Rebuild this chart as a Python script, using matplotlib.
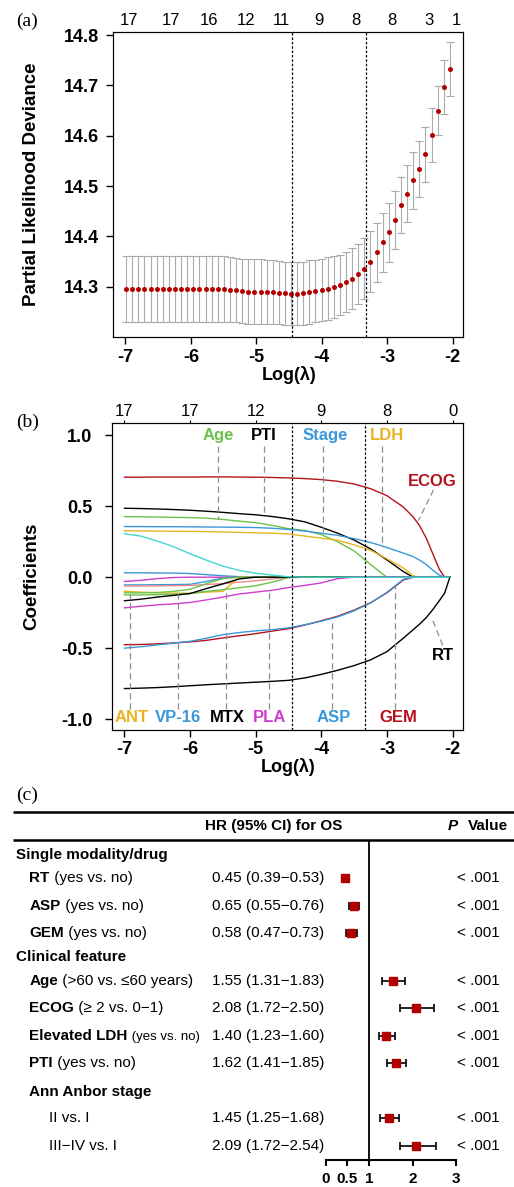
import numpy as np
import matplotlib.pyplot as plt

plt.rcParams['font.family'] = ['Liberation Sans', 'DejaVu Sans']
plt.rcParams['axes.unicode_minus'] = False

# ---- (a) cross-validation curve ----
cv_lam = np.linspace(-6.99, -2.04, 54)
cv_dev = [14.295, 14.295, 14.295, 14.295, 14.295, 14.295, 14.295, 14.295, 14.295, 14.295,
          14.295, 14.295, 14.295, 14.295, 14.295, 14.295, 14.295, 14.294, 14.293, 14.291,
          14.290, 14.290, 14.290, 14.289, 14.289, 14.288, 14.287, 14.286, 14.286, 14.287,
          14.289, 14.291, 14.293, 14.296, 14.299, 14.303, 14.309, 14.316, 14.325, 14.336,
          14.350, 14.368, 14.388, 14.408, 14.433, 14.462, 14.485, 14.511, 14.534, 14.563,
          14.601, 14.650, 14.697, 14.732]
cv_se = [0.065] * 18 + [0.064] * 5 + [0.063] * 8 + [0.062] * 4 + [0.060] * 6 + \
        [0.058] * 4 + [0.056] * 4 + [0.055, 0.054, 0.048, 0.053, 0.054]
cv_top_pos = [-6.95, -6.31, -5.72, -5.15, -4.61, -4.04, -3.48, -2.93, -2.36, -1.94]
cv_top_lab = ['17', '17', '16', '12', '11', '9', '8', '8', '3', '1']
lam_min = -4.45
lam_1se = -3.33

# ---- (b) coefficient paths ----
path_lam = [-7.0, -6.75, -6.5, -6.25, -6.0, -5.75, -5.5, -5.25, -5.0, -4.75, -4.5,
            -4.25, -4.0, -3.75, -3.5, -3.25, -3.0, -2.75, -2.6, -2.5, -2.4, -2.3,
            -2.2, -2.12, -2.04]
ecog = [0.705, 0.705, 0.706, 0.706, 0.706, 0.707, 0.707, 0.706, 0.705, 0.703, 0.700,
        0.695, 0.688, 0.676, 0.657, 0.624, 0.575, 0.495, 0.425, 0.362, 0.275, 0.165,
        0.055, 0.0, 0.0]
pti = [0.486, 0.484, 0.481, 0.477, 0.472, 0.465, 0.457, 0.448, 0.44, 0.428, 0.412,
       0.39, 0.352, 0.31, 0.262, 0.2, 0.122, 0.04, 0.0, 0.0, 0.0, 0.0,
       0.0, 0.0, 0.0]
age = [0.427, 0.426, 0.424, 0.422, 0.42, 0.416, 0.407, 0.395, 0.385, 0.365, 0.342,
       0.33, 0.30, 0.25, 0.185, 0.09, 0.0, 0.0, 0.0, 0.0, 0.0, 0.0,
       0.0, 0.0, 0.0]
stage = [0.357, 0.357, 0.356, 0.356, 0.355, 0.354, 0.353, 0.352, 0.35, 0.345, 0.337,
         0.325, 0.31, 0.295, 0.272, 0.245, 0.21, 0.17, 0.145, 0.12, 0.09, 0.05,
         0.015, 0.0, 0.0]
ldh = [0.327, 0.326, 0.325, 0.324, 0.323, 0.321, 0.319, 0.316, 0.313, 0.31, 0.305,
       0.29, 0.275, 0.26, 0.228, 0.19, 0.13, 0.065, 0.01, 0.0, 0.0, 0.0,
       0.0, 0.0, 0.0]
var_cyan = [0.306, 0.29, 0.255, 0.215, 0.165, 0.12, 0.078, 0.048, 0.028, 0.015, 0.003,
            0.0, 0.0, 0.0, 0.0, 0.0, 0.0, 0.0, 0.0, 0.0, 0.0, 0.0, 0.0, 0.0, 0.0]
var_bpos = [0.031, 0.031, 0.03, 0.029, 0.026, 0.018, 0.01, 0.004, 0.0, 0.0, 0.0,
            0.0, 0.0, 0.0, 0.0, 0.0, 0.0, 0.0, 0.0, 0.0, 0.0, 0.0, 0.0, 0.0, 0.0]
var_mag = [-0.03, -0.022, -0.01, -0.002, 0.0, 0.0, 0.0, 0.0, 0.0, 0.0, 0.0,
           0.0, 0.0, 0.0, 0.0, 0.0, 0.0, 0.0, 0.0, 0.0, 0.0, 0.0, 0.0, 0.0, 0.0]
vp16 = [-0.054, -0.054, -0.053, -0.052, -0.05, -0.03, -0.005, 0.0, 0.0, 0.0, 0.0,
        0.0, 0.0, 0.0, 0.0, 0.0, 0.0, 0.0, 0.0, 0.0, 0.0, 0.0, 0.0, 0.0, 0.0]
var_pink = [-0.062, -0.062, -0.061, -0.06, -0.058, -0.052, -0.045, -0.035, -0.025, -0.012, -0.002,
            0.0, 0.0, 0.0, 0.0, 0.0, 0.0, 0.0, 0.0, 0.0, 0.0, 0.0, 0.0, 0.0, 0.0]
ant = [-0.099, -0.105, -0.11, -0.113, -0.113, -0.105, -0.1, 0.0, 0.0, 0.0, 0.0,
       0.0, 0.0, 0.0, 0.0, 0.0, 0.0, 0.0, 0.0, 0.0, 0.0, 0.0, 0.0, 0.0, 0.0]
var_green = [-0.11, -0.11, -0.108, -0.1, -0.085, -0.045, -0.01, 0.0, 0.0, 0.0, 0.0,
             0.0, 0.0, 0.0, 0.0, 0.0, 0.0, 0.0, 0.0, 0.0, 0.0, 0.0, 0.0, 0.0, 0.0]
var_green2 = [-0.125, -0.125, -0.123, -0.12, -0.115, -0.1, -0.088, -0.074, -0.06, -0.035, -0.003,
              0.0, 0.0, 0.0, 0.0, 0.0, 0.0, 0.0, 0.0, 0.0, 0.0, 0.0, 0.0, 0.0, 0.0]
mtx = [-0.166, -0.155, -0.14, -0.128, -0.115, -0.08, -0.047, -0.012, 0.0, 0.0, 0.0,
       0.0, 0.0, 0.0, 0.0, 0.0, 0.0, 0.0, 0.0, 0.0, 0.0, 0.0, 0.0, 0.0, 0.0]
pla = [-0.216, -0.205, -0.195, -0.188, -0.178, -0.16, -0.14, -0.118, -0.105, -0.092, -0.073,
       -0.058, -0.04, -0.01, 0.0, 0.0, 0.0, 0.0, 0.0, 0.0, 0.0, 0.0, 0.0, 0.0, 0.0]
gem = [-0.476, -0.474, -0.47, -0.463, -0.456, -0.445, -0.428, -0.413, -0.398, -0.38, -0.363,
       -0.337, -0.307, -0.275, -0.232, -0.18, -0.11, -0.02, 0.0, 0.0, 0.0, 0.0,
       0.0, 0.0, 0.0]
asp = [-0.50, -0.49, -0.477, -0.465, -0.452, -0.43, -0.405, -0.39, -0.378, -0.37, -0.357,
       -0.335, -0.31, -0.28, -0.237, -0.182, -0.107, -0.015, 0.0, 0.0, 0.0, 0.0,
       0.0, 0.0, 0.0]
rt = [-0.785, -0.782, -0.778, -0.772, -0.765, -0.758, -0.752, -0.746, -0.74, -0.734, -0.727,
      -0.71, -0.685, -0.656, -0.623, -0.583, -0.525, -0.43, -0.37, -0.33, -0.285, -0.228,
      -0.165, -0.112, 0.0]

RED, BLK, GRN, BLU, GLD = '#B5121B', '#000000', '#6CC24A', '#3A98D8', '#E6B422'
CYN, MAG, PNK = '#3FD8CF', '#D03BD0', '#E88A8A'
paths = [ecog, pti, age, stage, ldh, var_bpos, var_mag, vp16, var_pink, ant,
         var_green, var_green2, mtx, pla, gem, asp, rt, var_cyan]
path_cols = [RED, BLK, GRN, BLU, GLD, BLU, MAG, BLU, PNK, GLD,
             GRN, GRN, BLK, MAG, RED, BLU, BLK, CYN]

top_names = ['Age', 'PTI', 'Stage', 'LDH']
top_cols = [GRN, BLK, BLU, GLD]
top_text_x = [-5.57, -4.88, -3.94, -3.0]
top_line_x = [-5.57, -4.87, -3.98, -3.07]
top_line_end = [0.41, 0.435, 0.317, 0.21]
bot_names = ['ANT', 'VP-16', 'MTX', 'PLA', 'ASP', 'GEM']
bot_cols = [GLD, BLU, BLK, MAG, BLU, RED]
bot_text_x = [-6.89, -6.19, -5.43, -4.79, -3.81, -2.82]
bot_line_x = [-6.91, -6.18, -5.46, -4.80, -3.83, -2.87]
bot_line_end = [-0.117, -0.117, -0.08, -0.09, -0.293, -0.06]

# ---- (c) forest plot ----
row_names = ['RT', 'ASP', 'GEM', 'Age', 'ECOG', 'Elevated LDH', 'PTI',
             'II vs. I', 'III\u2212IV vs. I']
row_notes = [' (yes vs. no)', ' (yes vs. no)', ' (yes vs. no)', ' (>60 vs. \u226460 years)',
             ' (\u2265 2 vs. 0\u22121)', ' (yes vs. no)', ' (yes vs. no)', '', '']
hr = np.array([0.45, 0.65, 0.58, 1.55, 2.08, 1.40, 1.62, 1.45, 2.09])
hr_lo = np.array([0.39, 0.55, 0.47, 1.31, 1.72, 1.23, 1.41, 1.25, 1.72])
hr_hi = np.array([0.53, 0.76, 0.73, 1.83, 2.50, 1.60, 1.85, 1.68, 2.54])
p_text = ['< .001'] * 9

W, H = 514, 1187


def box(l, t, r, b):
    return [l / W, 1 - b / H, (r - l) / W, (b - t) / H]


fig = plt.figure(figsize=(W / 100, H / 100), dpi=100)

# (a)
ax = fig.add_axes(box(113, 32, 463, 337))
ax.errorbar(cv_lam, cv_dev, yerr=cv_se, fmt='none', ecolor='#ABABAB',
            elinewidth=0.8, capsize=2.8, capthick=0.8)
ax.plot(cv_lam, cv_dev, 'o', color='#B50000', ms=3.6, mec='none')
for v in (lam_min, lam_1se):
    ax.axvline(v, color='k', ls=(0, (2, 1.5)), lw=0.9)
ax.set_xlim(-7.19, -1.84)
ax.set_ylim(14.20, 14.806)
ax.set_xticks([-7, -6, -5, -4, -3, -2])
ax.set_yticks([14.3, 14.4, 14.5, 14.6, 14.7, 14.8])
ax.set_yticklabels(['%.1f' % t for t in ax.get_yticks()])
ax.tick_params(direction='out', length=5, width=1, labelsize=13)
ax.tick_params(axis='y', pad=5)
ax.tick_params(axis='x', pad=4)
for lab in ax.get_xticklabels() + ax.get_yticklabels():
    lab.set_fontweight('bold')
ax.set_ylabel('Partial Likelihood Deviance', fontsize=13.5, fontweight='bold')
ax.yaxis.set_label_coords(-0.209, 0.5)
ax.set_xlabel('Log(\u03bb)', fontsize=13, fontweight='bold')
ax.xaxis.set_label_coords(0.503, -0.095)
top = ax.twiny()
top.set_xlim(ax.get_xlim())
top.set_xticks(cv_top_pos)
top.set_xticklabels(cv_top_lab)
top.tick_params(length=0, labelsize=12, pad=3)

# (b)
bx = fig.add_axes(box(112, 423, 463, 730))
for vals, c in zip(paths, path_cols):
    bx.plot(path_lam, vals, color=c, lw=1.0)
for v in (lam_min, lam_1se):
    bx.axvline(v, color='k', ls=(0, (2, 1.5)), lw=0.9)
lead = dict(color='#8C8C8C', lw=0.9, ls=(0, (5, 3)))
for name, c, tx, lx, le in zip(top_names, top_cols, top_text_x, top_line_x, top_line_end):
    bx.text(tx, 0.998, name, color=c, fontsize=12, fontweight='bold', ha='center', va='center')
    bx.plot([lx, lx], [0.925, le], **lead)
for name, c, tx, lx, le in zip(bot_names, bot_cols, bot_text_x, bot_line_x, bot_line_end):
    bx.text(tx, -0.99, name, color=c, fontsize=12, fontweight='bold', ha='center', va='center')
    bx.plot([lx, lx], [-0.93, le], **lead)
bx.text(-2.31, 0.675, 'ECOG', color=RED, fontsize=12, fontweight='bold', ha='center', va='center')
bx.plot([-2.29, -2.52], [0.615, 0.40], **lead)
bx.text(-2.14, -0.555, 'RT', color=BLK, fontsize=12, fontweight='bold', ha='center', va='center')
bx.plot([-2.15, -2.31], [-0.48, -0.293], **lead)
bx.set_xlim(-7.19, -1.84)
bx.set_ylim(-1.077, 1.087)
bx.set_xticks([-7, -6, -5, -4, -3, -2])
bx.set_yticks([-1.0, -0.5, 0.0, 0.5, 1.0])
bx.set_yticklabels(['%.1f' % t for t in bx.get_yticks()])
bx.tick_params(direction='out', length=5, width=1, labelsize=13)
bx.tick_params(axis='y', pad=9)
bx.tick_params(axis='x', pad=3)
for lab in bx.get_xticklabels() + bx.get_yticklabels():
    lab.set_fontweight('bold')
bx.set_ylabel('Coefficients', fontsize=13.5, fontweight='bold')
bx.yaxis.set_label_coords(-0.205, 0.5)
bx.set_xlabel('Log(\u03bb)', fontsize=13, fontweight='bold')
bx.xaxis.set_label_coords(0.503, -0.09)
btop = bx.twiny()
btop.set_xlim(bx.get_xlim())
btop.set_xticks([-7, -6, -5, -4, -3, -2])
btop.set_xticklabels(['17', '17', '12', '9', '8', '0'])
btop.tick_params(length=2.5, width=0.8, labelsize=12, pad=0.5)

# (c) forest
row_y = [878.3, 906, 933.3, 981, 1008.3, 1035.7, 1062.7, 1118.3, 1145.7]
fx = fig.add_axes(box(325.5, 840, 456, 1160))
fx.patch.set_visible(False)
fx.errorbar(hr, row_y, xerr=[hr - hr_lo, hr_hi - hr], fmt='none', ecolor='k',
            elinewidth=1.2, capsize=2.6, capthick=1.2, clip_on=False)
fx.plot(hr, row_y, 's', color='#B00000', ms=5.6, mec='#B00000', zorder=3, clip_on=False)
fx.axvline(1, color='k', lw=1.3)
fx.set_xlim(0, 3)
fx.set_ylim(1160, 840)
for s in ('top', 'right', 'left'):
    fx.spines[s].set_visible(False)
fx.spines['bottom'].set_linewidth(1.5)
fx.spines['bottom'].set_bounds(0, 3)
fx.set_yticks([])
fx.set_xticks([0, 0.5, 1, 2, 3])
fx.set_xticklabels(['0', '0.5', '1', '2', '3'])
fx.tick_params(axis='x', direction='out', length=4.5, width=1.5, labelsize=11, pad=4)
for lab in fx.get_xticklabels():
    lab.set_fontweight('bold')

# text layer
tx = fig.add_axes([0, 0, 1, 1])
tx.set_xlim(0, W)
tx.set_ylim(H, 0)
tx.axis('off')
tx.patch.set_visible(False)
for lab, y in (('(a)', 21.5), ('(b)', 422.7), ('(c)', 795)):
    tx.text(16, y, lab, family=['Liberation Serif', 'DejaVu Serif'], fontsize=14,
            ha='left', va='center')
tx.plot([13, W], [812.3, 812.3], color='k', lw=1.8, solid_capstyle='butt')
tx.plot([13, W], [840, 840], color='k', lw=1.8, solid_capstyle='butt')
tx.text(274, 826, 'HR (95% CI) for OS', ha='center', va='center', fontsize=11, fontweight='bold')
tx.text(448, 826, 'P', ha='left', va='center', fontsize=11, fontweight='bold', style='italic')
tx.text(467.5, 826, 'Value', ha='left', va='center', fontsize=11, fontweight='bold')
tx.text(15.7, 855, 'Single modality/drug', ha='left', va='center', fontsize=11, fontweight='bold')
tx.text(15.7, 956.7, 'Clinical feature', ha='left', va='center', fontsize=11, fontweight='bold')
tx.text(29.3, 1091.7, 'Ann Anbor stage', ha='left', va='center', fontsize=11, fontweight='bold')
for i, (name, note, y) in enumerate(zip(row_names, row_notes, row_y)):
    stage_row = i >= 7
    t = tx.text(49.3 if stage_row else 29.3, y, name, ha='left', va='center', fontsize=11,
                fontweight='normal' if stage_row else 'bold')
    if note:
        tx.annotate(note, xy=(1, 0), xycoords=t, ha='left', va='bottom',
                    fontsize=9.5 if name == 'Elevated LDH' else 11)
    tx.text(212.3, y, '%.2f (%.2f\u2212%.2f)' % (hr[i], hr_lo[i], hr_hi[i]),
            ha='left', va='center', fontsize=11)
    tx.text(456.7, y, p_text[i], ha='left', va='center', fontsize=11)

fig.savefig('out.png', dpi=100)
